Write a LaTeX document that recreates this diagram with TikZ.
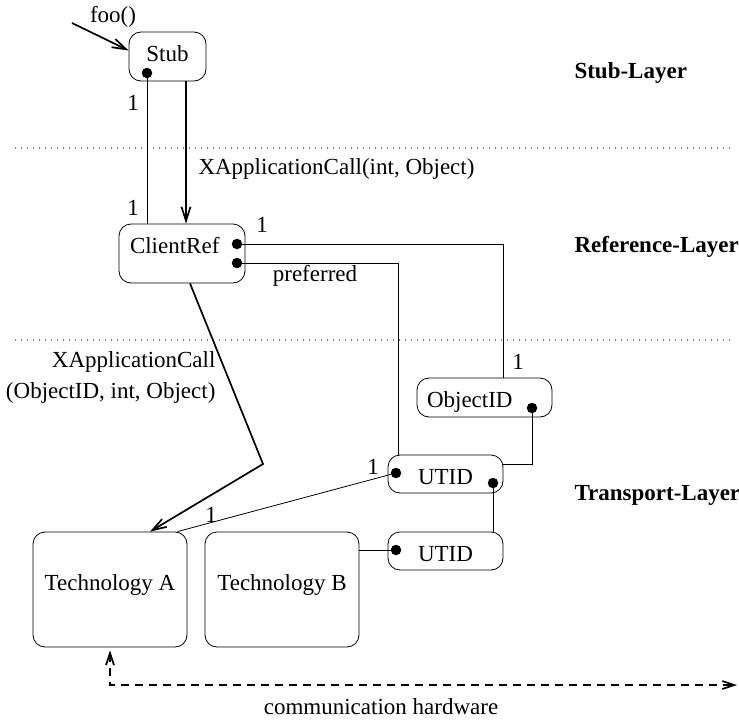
\documentclass[tikz,border=0pt]{standalone}
\usepackage{fontspec}
\setmainfont{Liberation Serif}
\usetikzlibrary{arrows.meta}
\begin{document}
\begin{tikzpicture}[x=1pt,y=-1pt,
		every node/.style={font=\fontsize{23}{31}\selectfont},
		cls/.style={draw,rounded corners=12pt,inner sep=0pt,line width=0.8pt},
		dot/.style={circle,fill,inner sep=0pt,minimum size=10.5pt},
		assoc/.style={line width=0.8pt},
		call/.style={line width=1.7pt,-{Straight Barb[length=14pt,width=9pt]}},
		hw/.style={line width=1.7pt,dash pattern=on 8pt off 6pt,{Straight Barb[length=12pt,width=8pt]}-{Straight Barb[length=12pt,width=8pt]}},
		layer/.style={font=\fontsize{23}{31}\selectfont\bfseries,anchor=west},
		sep/.style={gray,line width=1.2pt,dash pattern=on 1.2pt off 4.8pt}]
	\useasboundingbox (0,0) rectangle (739,720);

	\draw[sep] (15,148)--(733,148);
	\draw[sep] (15,340)--(733,340);

	\node[cls,minimum width=77pt,minimum height=49pt,text height=16pt,text depth=6pt] (stub) at (167.5,56.5){Stub};
	\node[dot] (s1) at (147,73){};

	\node[cls,minimum width=126pt,minimum height=59pt,text height=16pt,text depth=16pt,inner xsep=11pt,text width=104pt,align=left] (ref) at (182,253.5){ClientRef};
	\node[dot] (r1) at (237,244){};
	\node[dot] (r2) at (237,263){};

	\node[cls,minimum width=135pt,minimum height=39pt,text height=22pt,text depth=2pt,inner xsep=10pt,text width=115pt,align=left] (oid) at (484.5,397.5){ObjectID};
	\node[dot] (o1) at (532,408){};

	\node[cls,minimum width=115pt,minimum height=38pt,text height=22pt,text depth=2pt] (utidA) at (445.5,474){UTID};
	\node[dot] (ua1) at (396,473){};
	\node[dot] (ua2) at (493,483){};
	\node[cls,minimum width=115pt,minimum height=38pt,text height=22pt,text depth=2pt] (utidB) at (445.5,551){UTID};
	\node[dot] (ub1) at (396,550){};

	\node[cls,minimum width=154pt,minimum height=115pt,text height=16pt,text depth=14pt] (techA) at (110,589.5){Technology A};
	\node[cls,minimum width=154pt,minimum height=115pt,text height=16pt,text depth=14pt] (techB) at (282,589.5){Technology B};

	\coordinate (caller) at (72,23);
	\draw[call] (caller)--([yshift=6pt]stub.west);
	\node (foo) at (113,17){foo()};

	\draw[assoc] (s1)--(s1 |- ref.north);
	\node (m1) at (133,103){1};
	\node (m2) at (133,208){1};
	\draw[call] ([xshift=18.5pt]stub.south) coordinate (c)--(c |- ref.north);
	\node[anchor=west] (xcall) at (195,169){XApplicationCall(int, Object)};

	\draw[assoc] (r1) -| ([xshift=18.5pt]oid.north);
	\node (m3) at (262,225){1};
	\node (m4) at (518,362){1};
	\draw[assoc] (r2) -| ([xshift=-47.5pt]utidA.north);
	\node (pref) at (315,276){preferred};

	\draw[assoc] (o1) |- ([yshift=10pt]utidA.east);
	\draw[assoc] (ua2)--(ua2 |- utidB.north);
	\draw[assoc] (techB.east |- ub1)--(ub1);
	\draw[assoc] (ua1)--([xshift=-10pt]techA.north east);
	\node (m5) at (373,467){1};
	\node (m6) at (211,515){1};

	\coordinate (kink) at (263,464);
	\draw[call] ([xshift=8pt]ref.south)--(kink)--([xshift=40pt]techA.north);
	\node[align=right,anchor=east] (xcall2) at (219,377.5){XApplicationCall\\(ObjectID, int, Object)};

	\coordinate (hwend) at (737,685);
	\draw[hw] ([yshift=-3pt]techA.south) |- (hwend);
	\node (hwlabel) at (381,707){communication hardware};

	\node[layer] (stubL) at (571,73){Stub-Layer};
	\node[layer] (refL) at (571,247){Reference-Layer};
	\node[layer] (transL) at (571,495){Transport-Layer};
\end{tikzpicture}
\end{document}
